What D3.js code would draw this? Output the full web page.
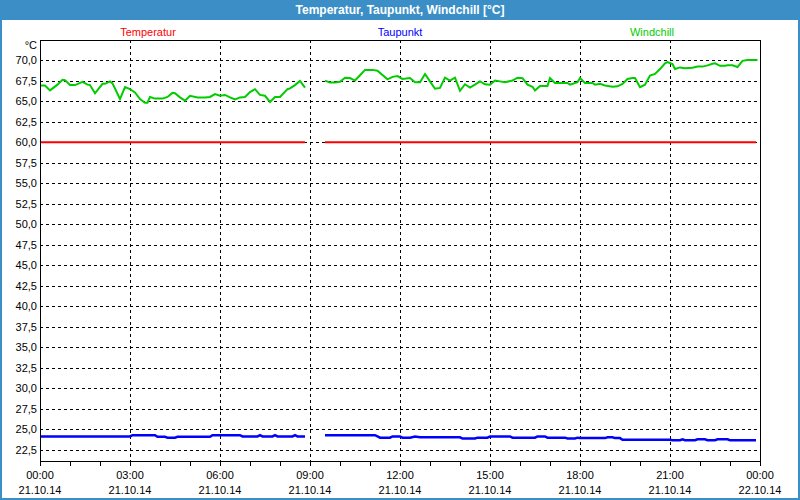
<!DOCTYPE html>
<html>
<head>
<meta charset="utf-8">
<script src="https://cdn.jsdelivr.net/npm/d3@7"></script>
<style>
  body { margin: 0; background: #fff; }
  svg { display: block; font-family: "Liberation Sans", Arial, sans-serif; }
</style>
</head>
<body>
<div id="chart"></div>
<script>
// Temperatur / Taupunkt / Windchill, 21.10.14
// null marks the missing data around 09:00

const seriesNames = ["Temperatur", "Taupunkt", "Windchill"];

const tempTime  = ["00:00", "08:50", "09:10", "09:30", "23:52"];
const tempValue = [60.0, 60.0, null, 60.0, 60.0];

const dewTime = ["00:00","03:00","03:05","03:50","03:55","04:10","04:15","04:30","04:35","05:40",
  "05:45","06:40","06:45","07:15","07:20","07:25","07:45","07:50","07:55","08:25",
  "08:30","08:35","08:50","09:10","09:30","11:10","11:15","11:20","11:40","11:45",
  "12:00","12:05","12:20","12:30","12:40","14:00","14:05","14:30","14:35","14:55",
  "15:00","15:40","15:45","16:30","16:35","16:50","16:55","17:30","17:35","17:50",
  "17:55","18:00","18:50","18:55","19:05","19:10","19:20","19:25","21:00","21:05",
  "21:20","21:25","21:30","21:50","21:55","22:10","22:15","22:30","22:35","22:55",
  "23:00","23:52"];
const dewValue = [24.15,24.15,24.3,24.3,24.1,24.1,24.0,24.0,24.1,24.1,
  24.3,24.3,24.15,24.15,24.3,24.15,24.15,24.3,24.15,24.15,
  24.3,24.15,24.15,null,24.3,24.3,24.15,24.0,24.0,24.15,
  24.15,24.0,24.0,24.15,24.05,24.05,23.9,23.9,24.0,24.0,
  24.15,24.15,24.0,24.0,24.15,24.15,24.0,24.0,23.9,23.9,
  24.0,23.95,23.95,24.05,24.05,23.95,23.95,23.75,23.75,23.7,
  23.7,23.8,23.7,23.7,23.8,23.8,23.7,23.7,23.8,23.8,
  23.7,23.7];

const chillTime = ["00:00","00:10","00:20","00:35","00:45","00:50","01:00","01:10","01:25","01:35",
  "01:40","01:50","02:05","02:10","02:20","02:25","02:40","02:50","03:00","03:10",
  "03:20","03:30","03:35","03:40","03:50","04:05","04:15","04:25","04:30","04:40",
  "04:50","05:00","05:15","05:30","05:40","05:50","06:00","06:10","06:20","06:30",
  "06:40","06:50","07:00","07:10","07:20","07:30","07:40","07:50","08:00","08:15",
  "08:20","08:30","08:40","08:50","09:10","09:30","09:40","09:50","10:00","10:10",
  "10:20","10:30","10:40","10:50","11:05","11:15","11:35","11:45","11:55","12:05",
  "12:20","12:30","12:40","12:50","13:00","13:10","13:20","13:30","13:40","13:50",
  "14:00","14:10","14:20","14:30","14:40","14:50","15:00","15:10","15:20","15:30",
  "15:45","15:55","16:05","16:15","16:25","16:30","16:40","16:55","17:00","17:10",
  "17:25","17:35","17:40","17:55","18:00","18:10","18:25","18:30","18:40","18:50",
  "19:05","19:15","19:25","19:35","19:45","19:50","20:00","20:10","20:20","20:30",
  "20:40","20:50","20:55","21:05","21:10","21:20","21:30","21:45","21:55","22:05",
  "22:15","22:25","22:30","22:40","22:50","22:55","23:05","23:15","23:25","23:35",
  "23:55"];
const chillValue = [66.9,66.9,66.3,67.0,67.6,67.55,66.95,66.95,67.35,67.0,
  66.95,65.95,67.1,67.1,67.4,67.15,65.25,66.7,66.45,66.05,
  65.25,64.8,64.8,65.5,65.3,65.3,65.5,66.0,65.95,65.45,
  65.05,65.65,65.45,65.45,65.5,65.85,65.65,65.75,65.45,65.2,
  65.45,65.5,66.1,66.45,65.75,65.65,64.9,65.5,65.5,66.45,
  66.55,66.95,67.45,66.65,null,67.5,67.25,67.25,67.35,67.85,
  67.8,67.5,68.15,68.8,68.8,68.7,67.65,67.95,68.05,67.7,
  67.8,67.3,67.3,68.3,67.4,66.5,66.6,67.85,67.5,67.85,
  66.25,67.05,66.65,67.0,67.4,67.05,67.0,67.5,67.4,67.3,
  67.5,67.85,67.8,67.0,66.75,66.3,66.85,66.85,67.8,67.2,
  67.2,67.2,67.0,67.3,67.8,67.2,67.2,67.0,67.1,66.9,
  66.75,66.8,67.1,67.7,67.8,67.8,66.7,67.0,68.1,68.3,
  68.9,69.6,69.75,69.5,68.9,69.1,69.0,69.05,69.2,69.2,
  69.35,69.55,69.6,69.3,69.3,69.35,69.35,69.15,69.9,70.0,
  70.0];

const yTicks = [22.5,25,27.5,30,32.5,35,37.5,40,42.5,45,47.5,50,52.5,55,57.5,60,62.5,65,67.5,70];

const W = 800, H = 500;
const plot = { left: 40, right: 760, top: 40, bottom: 461 };
const day = new Date(2014, 9, 21);
const nextDay = d3.timeDay.offset(day, 1);

function at(hm) {
  const [h, m] = hm.split(":").map(Number);
  return new Date(2014, 9, 21, h, m);
}
function rows(times, values) {
  return times.map((t, i) => ({ t: at(t), v: values[i] }));
}

const series = [
  { name: seriesNames[0], color: "#ff0000", data: rows(tempTime, tempValue) },
  { name: seriesNames[1], color: "#0000ff", data: rows(dewTime, dewValue) },
  { name: seriesNames[2], color: "#00cc00", data: rows(chillTime, chillValue) }
];

const svg = d3.select("#chart").append("svg")
  .attr("width", W).attr("height", H);

// window frame + title bar
svg.append("rect").attr("width", W).attr("height", H).attr("fill", "#3c8fc6");
svg.append("rect").attr("x", 2).attr("y", 20).attr("width", W - 4).attr("height", H - 22)
  .attr("fill", "#ffffff");
svg.append("text")
  .attr("x", W / 2).attr("y", 14)
  .attr("text-anchor", "middle")
  .attr("fill", "#ffffff")
  .style("font-size", "12px").style("font-weight", "bold")
  .text("Temperatur, Taupunkt, Windchill [°C]");

// scales
const x = d3.scaleTime()
  .domain([day, nextDay])
  .range([plot.left, plot.right]);
const y = d3.scaleLinear()
  .domain([21.16, 72.44])
  .range([plot.bottom, plot.top]);

// horizontal grid
svg.append("g").selectAll("line")
  .data(yTicks)
  .join("line")
  .attr("x1", plot.left).attr("x2", plot.right)
  .attr("y1", d => Math.round(y(d)) + 0.5).attr("y2", d => Math.round(y(d)) + 0.5)
  .attr("stroke", "#000").attr("stroke-dasharray", "3,3");

// vertical grid every 3 h (inner lines only)
const labelTimes = d3.timeHour.every(3).range(day, new Date(+nextDay + 1));
const majors = labelTimes.slice(1, -1);
svg.append("g").selectAll("line")
  .data(majors)
  .join("line")
  .attr("x1", d => Math.round(x(d)) + 0.5).attr("x2", d => Math.round(x(d)) + 0.5)
  .attr("y1", plot.top).attr("y2", plot.bottom)
  .attr("stroke", "#000").attr("stroke-dasharray", "3,3");

// y labels
const fmt = d3.format(".1f");
svg.append("g").selectAll("text")
  .data(yTicks)
  .join("text")
  .attr("x", 37).attr("y", d => y(d) + 4)
  .attr("text-anchor", "end")
  .style("font-size", "11px")
  .text(d => fmt(d).replace(".", ","));
svg.append("text")
  .attr("x", 37).attr("y", 49)
  .attr("text-anchor", "end")
  .style("font-size", "11px")
  .text("°C");

// x axis: hourly ticks, labels every 3 h
const xAxis = d3.axisBottom(x)
  .ticks(d3.timeHour.every(1))
  .tickSize(5)
  .tickFormat("");
svg.append("g")
  .attr("transform", `translate(0,${plot.bottom})`)
  .call(xAxis)
  .call(g => g.select(".domain").remove())
  .call(g => g.selectAll("line").attr("stroke", "#000"));

const lab = svg.append("g").selectAll("g")
  .data(labelTimes)
  .join("g")
  .attr("transform", d => `translate(${x(d)},0)`);
lab.append("text").attr("y", 479).attr("text-anchor", "middle")
  .style("font-size", "11px").text(d3.timeFormat("%H:%M"));
lab.append("text").attr("y", 494).attr("text-anchor", "middle")
  .style("font-size", "11px").text(d3.timeFormat("%d.%m.%y"));

// lines
const line = d3.line()
  .defined(d => d.v != null)
  .x(d => x(d.t))
  .y(d => y(d.v));

svg.append("g").selectAll("path")
  .data(series)
  .join("path")
  .attr("fill", "none")
  .attr("stroke", d => d.color)
  .attr("stroke-width", d => d.name === "Taupunkt" ? 2.5 : 2)
  .attr("d", d => line(d.data));

// plot frame
svg.append("rect")
  .attr("x", plot.left + 0.5).attr("y", plot.top + 0.5)
  .attr("width", plot.right - plot.left).attr("height", plot.bottom - plot.top)
  .attr("fill", "none").attr("stroke", "#000");

// legend
const legendX = d3.scalePoint().domain(seriesNames).range([148, 652]);
svg.append("g").selectAll("text")
  .data(series)
  .join("text")
  .attr("x", d => legendX(d.name)).attr("y", 36)
  .attr("text-anchor", "middle")
  .attr("fill", d => d.color)
  .style("font-size", "11px")
  .text(d => d.name);
</script>
</body>
</html>
